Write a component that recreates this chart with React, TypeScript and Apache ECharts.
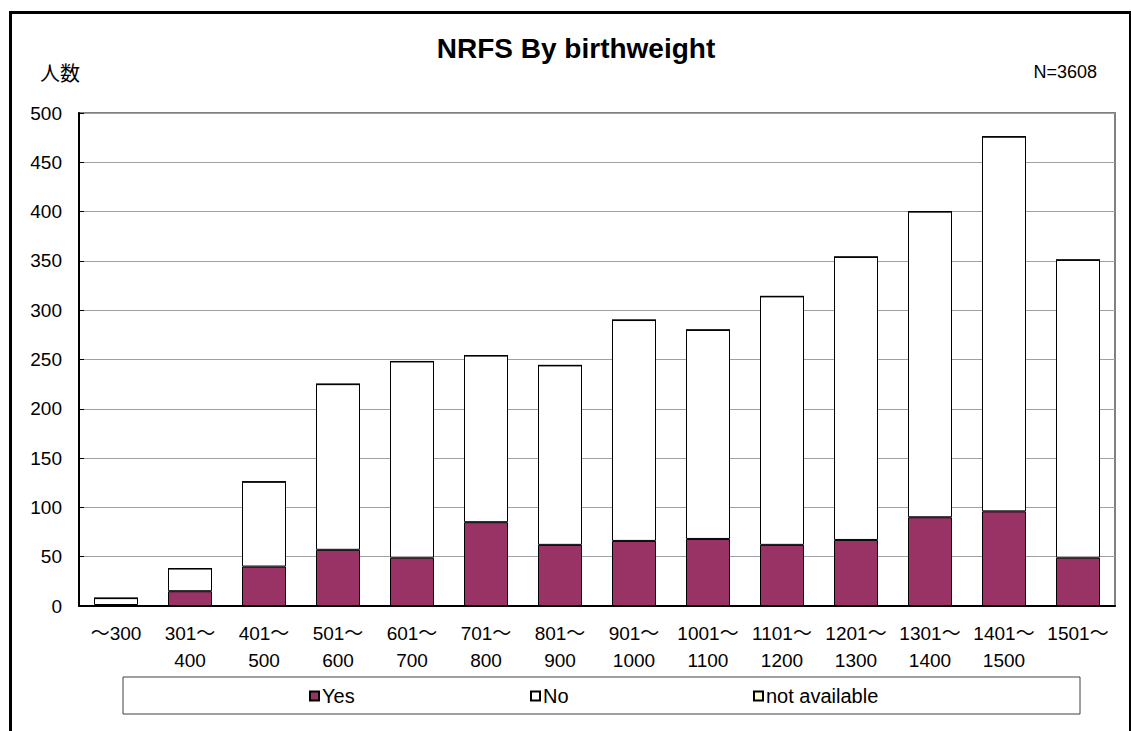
import React, { useEffect, useRef } from "react";
import * as echarts from "echarts";

const categories = ["～300", "301～\n400", "401～\n500", "501～\n600", "601～\n700", "701～\n800", "801～\n900", "901～\n1000", "1001～\n1100", "1101～\n1200", "1201～\n1300", "1301～\n1400", "1401～\n1500", "1501～"];
const yesValues = [1, 15, 40, 57, 49, 85, 62, 66, 68, 62, 67, 90, 96, 49];
const noValues = [7, 23, 86, 168, 199, 169, 182, 224, 212, 252, 287, 310, 380, 302];
const naValues = [0, 0, 0, 0, 0, 0, 0, 0, 0, 0, 0, 0, 0, 0];
const yTicks = { min: 0, max: 500, interval: 50 };

const FONT = "'Liberation Sans', 'Noto Sans CJK JP', sans-serif";
const LEGEND_FONT = "'Liberation Sans Narrow', 'Liberation Sans', sans-serif";

export default function App() {
  const ref = useRef<HTMLDivElement>(null);
  useEffect(() => {
    if (!ref.current) return;
    const chart = echarts.init(ref.current, null, { renderer: "svg" });
    const legendItem = (name: string, left: number) => ({
      data: [name],
      left,
      top: 686,
      padding: 0,
      itemWidth: 9,
      itemHeight: 9,
      itemGap: 0,
      icon: "rect",
      textStyle: { fontFamily: LEGEND_FONT, fontSize: 20, color: "#000", padding: [0, 0, 0, -2] },
    });
    chart.setOption({
      animation: false,
      backgroundColor: "#fff",
      grid: {
        left: 79,
        right: 16,
        top: 113,
        bottom: 125,
        show: true,
        borderColor: "#808080",
        borderWidth: 2,
        containLabel: false,
      },
      legend: [legendItem("Yes", 309), legendItem("No", 530), legendItem("not available", 753)],
      xAxis: {
        type: "category",
        data: categories,
        axisLine: { lineStyle: { color: "#000", width: 2 } },
        axisTick: { inside: true, length: 6, lineStyle: { color: "#000" } },
        axisLabel: {
          interval: 0,
          fontFamily: FONT,
          fontSize: 19,
          color: "#000",
          lineHeight: 27,
          margin: 14,
        },
      },
      yAxis: {
        type: "value",
        min: yTicks.min,
        max: yTicks.max,
        interval: yTicks.interval,
        axisLine: { show: true, lineStyle: { color: "#000", width: 2 } },
        axisTick: { show: true, inside: true, length: 5, lineStyle: { color: "#000" } },
        axisLabel: { fontFamily: FONT, fontSize: 19, color: "#000", margin: 17 },
        splitLine: { lineStyle: { color: "#a0a0a0", width: 1 } },
      },
      series: [
        {
          name: "Yes",
          type: "bar",
          stack: "total",
          barWidth: 44,
          data: yesValues,
          itemStyle: { color: "#993366", borderColor: "#000", borderWidth: 1 },
        },
        {
          name: "No",
          type: "bar",
          stack: "total",
          barWidth: 44,
          data: noValues,
          itemStyle: { color: "#ffffff", borderColor: "#000", borderWidth: 1 },
        },
        {
          name: "not available",
          type: "bar",
          stack: "total",
          barWidth: 44,
          data: naValues,
          itemStyle: { color: "#ffffcc", borderColor: "#000", borderWidth: 1 },
        },
      ],
      graphic: [
        {
          type: "rect",
          left: 8,
          top: 10,
          shape: { width: 1120, height: 740 },
          style: { fill: "none", stroke: "#000", lineWidth: 3 },
          z: -10,
        },
        {
          type: "rect",
          shape: { x: 123, y: 677, width: 957, height: 37 },
          style: { fill: "none", stroke: "#404040", lineWidth: 1 },
          z: -5,
        },
        {
          type: "text",
          x: 576,
          y: 48,
          style: {
            text: "NRFS By birthweight",
            fontFamily: FONT,
            fontSize: 28,
            fontWeight: "bold",
            fill: "#000",
            align: "center",
            verticalAlign: "middle",
          },
        },
        {
          type: "text",
          x: 40,
          y: 72,
          style: {
            text: "人数",
            fontFamily: "'Noto Sans CJK JP', sans-serif",
            fontSize: 20,
            fill: "#000",
            align: "left",
            verticalAlign: "middle",
          },
        },
        {
          type: "text",
          x: 1097,
          y: 72,
          style: {
            text: "N=3608",
            fontFamily: FONT,
            fontSize: 18,
            fill: "#000",
            align: "right",
            verticalAlign: "middle",
          },
        },
      ],
    });
    return () => chart.dispose();
  }, []);
  return (
    <div
      ref={ref}
      style={{ position: "fixed", left: 0, top: 0, width: 1131, height: 731 }}
    />
  );
}
